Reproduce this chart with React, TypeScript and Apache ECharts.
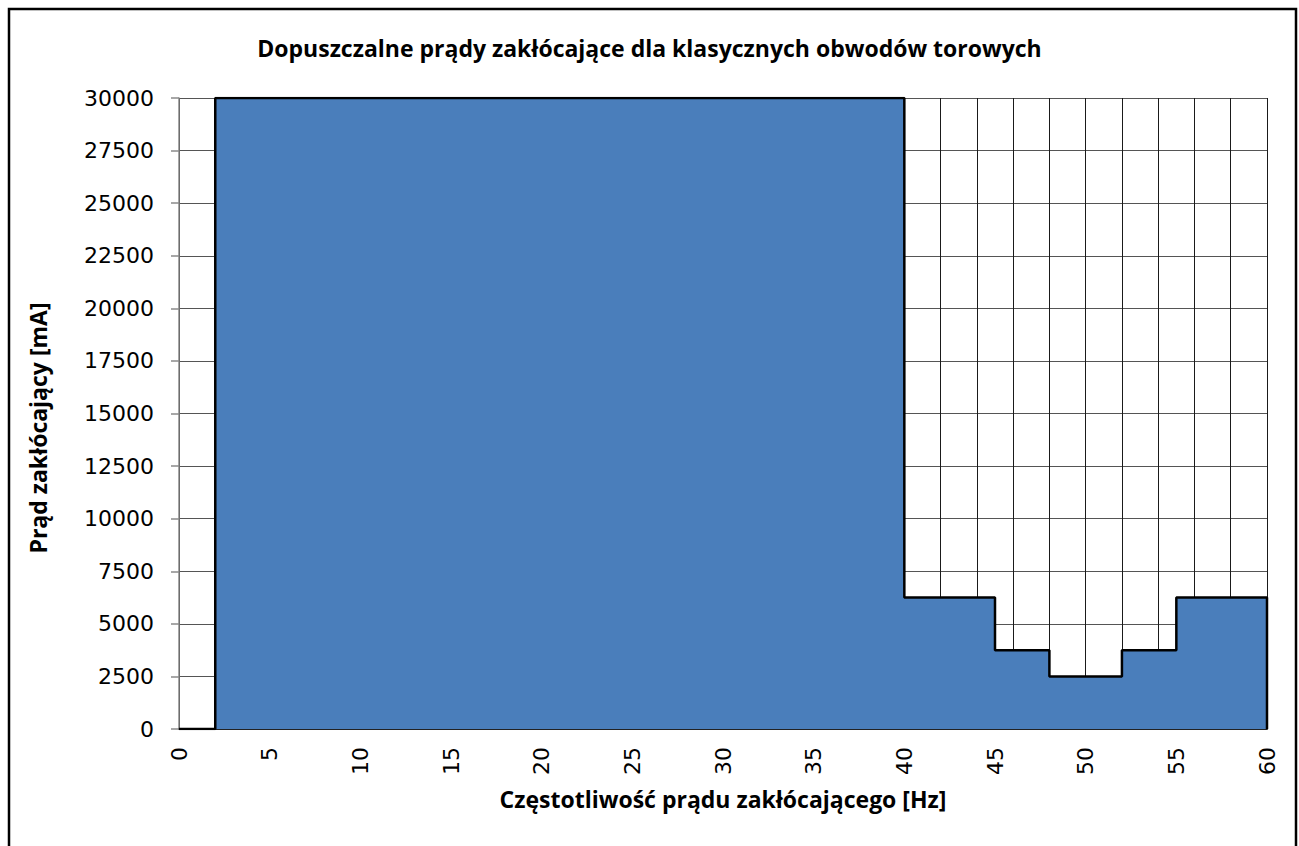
import React, { useEffect, useRef } from "react";
import * as echarts from "echarts";

const TITLE = "Dopuszczalne prądy zakłócające dla klasycznych obwodów torowych";
const X_NAME = "Częstotliwość prądu zakłócającego [Hz]";
const Y_NAME = "Prąd zakłócający [mA]";

// step outline of the allowed interference current (Hz, mA)
const freqHz = [0, 2, 2, 40, 40, 45, 45, 48, 48, 52, 52, 55, 55, 60, 60];
const currentMA = [0, 0, 30000, 30000, 6250, 6250, 3750, 3750, 2500, 2500, 3750, 3750, 6250, 6250, 0];

const X_MIN = 0;
const X_MAX = 60;
const X_LABEL_STEP = 5;
const X_GRID_STEP = 2;
const Y_MIN = 0;
const Y_MAX = 30000;
const Y_STEP = 2500;

const FONT = "'Open Sans', 'DejaVu Sans', sans-serif";
const TICK_FONT = "'DejaVu Sans', 'Open Sans', sans-serif";

export default function App() {
  const ref = useRef<HTMLDivElement>(null);
  useEffect(() => {
    if (!ref.current) return;
    const chart = echarts.init(ref.current, undefined, { renderer: "svg" });
    const data = freqHz.map((x, i) => [x, currentMA[i]]);
    chart.setOption({
      animation: false,
      backgroundColor: "#ffffff",
      textStyle: { fontFamily: FONT },
      title: {
        text: TITLE,
        left: "center",
        top: 31,
        textStyle: { fontFamily: FONT, fontSize: 23, fontWeight: "bold", color: "#000" },
      },
      grid: { left: 179, top: 98, width: 1088, height: 631, containLabel: false },
      graphic: [
        {
          type: "rect",
          shape: { x: 9, y: 9, width: 1287, height: 860 },
          style: { fill: "none", stroke: "#000", lineWidth: 2.5 },
          silent: true,
          z: 100,
        },
        {
          type: "text",
          x: 38,
          y: 428,
          rotation: Math.PI / 2,
          silent: true,
          style: {
            text: Y_NAME,
            fontFamily: FONT,
            fontSize: 23,
            fontWeight: "bold",
            fill: "#000",
            align: "center",
            verticalAlign: "middle",
          },
        },
      ],
      xAxis: [
        {
          type: "value",
          min: X_MIN,
          max: X_MAX,
          interval: X_LABEL_STEP,
          name: X_NAME,
          nameLocation: "middle",
          nameGap: 58,
          nameTextStyle: { fontFamily: FONT, fontSize: 23, fontWeight: "bold", color: "#000" },
          axisLine: { show: true, lineStyle: { color: "#222", width: 2 } },
          axisTick: { show: false },
          splitLine: { show: false },
          axisLabel: {
            rotate: 90,
            margin: 18,
            fontSize: 22,
            color: "#000",
            fontFamily: TICK_FONT,
            formatter: (v: number) => String(v),
          },
        },
        {
          type: "value",
          min: X_MIN,
          max: X_MAX,
          interval: X_GRID_STEP,
          position: "bottom",
          axisLine: { show: false },
          axisTick: { show: false },
          axisLabel: { show: false },
          splitLine: { show: true, lineStyle: { color: "#1a1a1a", width: 1 } },
        },
      ],
      yAxis: {
        type: "value",
        min: Y_MIN,
        max: Y_MAX,
        interval: Y_STEP,
        axisLine: { show: true, lineStyle: { color: "#8a8a8a", width: 1.5 } },
        axisTick: { show: true, inside: false, length: 8, lineStyle: { color: "#8a8a8a", width: 1.5 } },
        axisLabel: {
          margin: 25,
          fontSize: 22,
          color: "#000",
          fontFamily: TICK_FONT,
          formatter: (v: number) => String(v),
        },
        splitLine: { show: true, lineStyle: { color: "#555", width: 1 } },
      },
      series: [
        {
          type: "line",
          xAxisIndex: 0,
          data,
          symbol: "none",
          lineStyle: { color: "#000", width: 2.5 },
          areaStyle: { color: "#4a7ebb", opacity: 1 },
          z: 5,
        },
      ],
    });
    return () => chart.dispose();
  }, []);
  return (
    <div
      ref={ref}
      style={{ position: "fixed", left: 0, top: 0, width: 1299, height: 846, background: "#fff" }}
    />
  );
}
